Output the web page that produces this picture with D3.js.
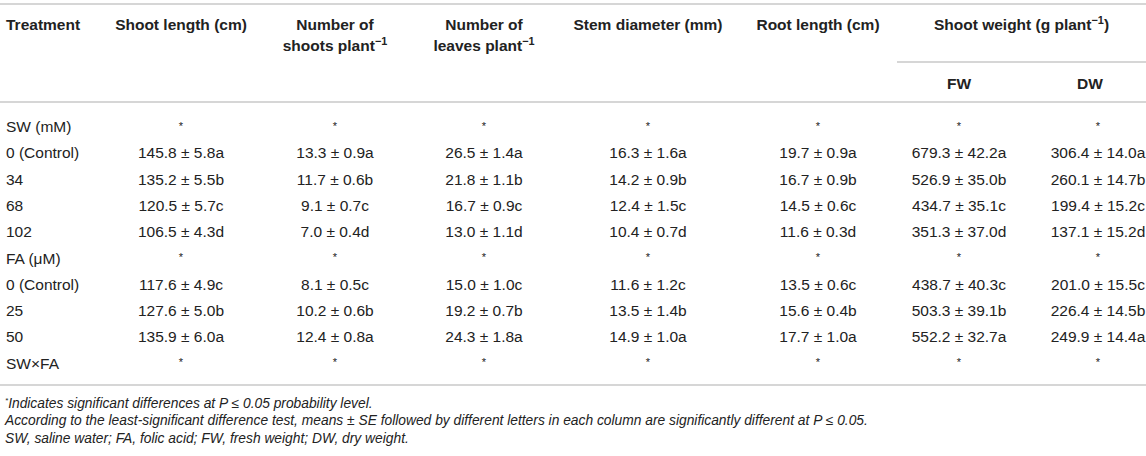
<!DOCTYPE html>
<html>
<head>
<meta charset="utf-8">
<script src="https://cdn.jsdelivr.net/npm/d3@7"></script>
<style>
  body { margin: 0; background: #fff; }
  text { font-family: 'Liberation Sans', Arial, Helvetica, sans-serif; fill: #222; }
</style>
</head>
<body>
<div id="chart"></div>
<script>
// table data
var treatments = ['SW (mM)', '0 (Control)', '34', '68', '102', 'FA (\u03bcM)', '0 (Control)', '25', '50', 'SW\u00d7FA'];

var shoot_length = ['*', '145.8 ± 5.8a', '135.2 ± 5.5b', '120.5 ± 5.7c', '106.5 ± 4.3d', '*', '117.6 ± 4.9c', '127.6 ± 5.0b', '135.9 ± 6.0a', '*'];
var shoots_number = ['*', '13.3 ± 0.9a', '11.7 ± 0.6b', '9.1 ± 0.7c', '7.0 ± 0.4d', '*', '8.1 ± 0.5c', '10.2 ± 0.6b', '12.4 ± 0.8a', '*'];
var leaves_number = ['*', '26.5 ± 1.4a', '21.8 ± 1.1b', '16.7 ± 0.9c', '13.0 ± 1.1d', '*', '15.0 ± 1.0c', '19.2 ± 0.7b', '24.3 ± 1.8a', '*'];
var stem_diameter = ['*', '16.3 ± 1.6a', '14.2 ± 0.9b', '12.4 ± 1.5c', '10.4 ± 0.7d', '*', '11.6 ± 1.2c', '13.5 ± 1.4b', '14.9 ± 1.0a', '*'];
var root_length = ['*', '19.7 ± 0.9a', '16.7 ± 0.9b', '14.5 ± 0.6c', '11.6 ± 0.3d', '*', '13.5 ± 0.6c', '15.6 ± 0.4b', '17.7 ± 1.0a', '*'];
var shoot_fw = ['*', '679.3 ± 42.2a', '526.9 ± 35.0b', '434.7 ± 35.1c', '351.3 ± 37.0d', '*', '438.7 ± 40.3c', '503.3 ± 39.1b', '552.2 ± 32.7a', '*'];
var shoot_dw = ['*', '306.4 ± 14.0a', '260.1 ± 14.7b', '199.4 ± 15.2c', '137.1 ± 15.2d', '*', '201.0 ± 15.5c', '226.4 ± 14.5b', '249.9 ± 14.4a', '*'];

// header labels: [line 1, line 2, superscript on last line]
var headers = [
  ['Shoot length (cm)', '', ''],
  ['Number of', 'shoots plant', '\u22121'],
  ['Number of', 'leaves plant', '\u22121'],
  ['Stem diameter (mm)', '', ''],
  ['Root length (cm)', '', ''],
  ['', '', ''],
  ['', '', '']
];
var sub_headers = ['FW', 'DW'];

var footnotes = [
  'Indicates significant differences at P \u2264 0.05 probability level.',
  'According to the least-significant difference test, means \u00b1 SE followed by different letters in each column are significantly different at P \u2264 0.05.',
  'SW, saline water; FA, folic acid; FW, fresh weight; DW, dry weight.'
];

var columns = [shoot_length, shoots_number, leaves_number, stem_diameter, root_length, shoot_fw, shoot_dw];

// svg container
var chart_width = 1146;
var chart_height = 456;
var font_size = 15.5;
var line_color = '#c8c8c8';

var svg = d3.select('#chart')
  .append('svg')
  .attr('width', chart_width)
  .attr('height', chart_height);

// scales
var x_scale = d3.scaleOrdinal()
  .domain(d3.range(columns.length))
  .range([181, 335, 484, 648, 818, 959, 1098]);

var y_scale = d3.scalePoint()
  .domain(d3.range(treatments.length))
  .range([126.5, 363.2]);

// horizontal rules
var rules = [
  {x1: 0, x2: chart_width, y: 4},
  {x1: 897, x2: chart_width, y: 62},
  {x1: 0, x2: chart_width, y: 102},
  {x1: 0, x2: chart_width, y: 385}
];

svg.selectAll('line.rule')
  .data(rules)
  .enter()
  .append('line')
  .attr('class', 'rule')
  .attr('x1', (d) => d.x1)
  .attr('x2', (d) => d.x2)
  .attr('y1', (d) => d.y)
  .attr('y2', (d) => d.y)
  .attr('stroke', line_color)
  .attr('stroke-width', 1.6);

// header
svg.append('text')
  .attr('x', 6)
  .attr('y', 29.5)
  .attr('font-size', font_size)
  .attr('font-weight', 'bold')
  .text('Treatment');

headers.forEach(function(h, i) {
  h.slice(0, 2).forEach(function(line, j) {
    if (!line) return;
    var t = svg.append('text')
      .attr('x', x_scale(i))
      .attr('y', 29.5 + j * 21)
      .attr('text-anchor', 'middle')
      .attr('font-size', font_size)
      .attr('font-weight', 'bold');
    t.append('tspan').text(line);
    if (j == 1 && h[2]) {
      t.append('tspan')
        .attr('dy', -6)
        .attr('font-size', font_size * 0.7)
        .text(h[2]);
    }
  });
});

// spanning header for shoot weight
var sw_head = svg.append('text')
  .attr('x', (x_scale(5) + x_scale(6)) / 2 - 7)
  .attr('y', 29.5)
  .attr('text-anchor', 'middle')
  .attr('font-size', font_size)
  .attr('font-weight', 'bold');
sw_head.append('tspan').text('Shoot weight (g plant');
sw_head.append('tspan').attr('dy', -6).attr('font-size', font_size * 0.7).text('\u22121');
sw_head.append('tspan').attr('dy', 6).text(')');

svg.selectAll('text.sub')
  .data(sub_headers)
  .enter()
  .append('text')
  .attr('class', 'sub')
  .attr('x', (d, i) => x_scale(5 + i) - (i == 1 ? 8 : 0))
  .attr('y', 88.5)
  .attr('text-anchor', 'middle')
  .attr('font-size', font_size)
  .attr('font-weight', 'bold')
  .text((d) => d);

// treatment column
svg.selectAll('text.treat')
  .data(treatments)
  .enter()
  .append('text')
  .attr('class', 'treat')
  .attr('x', 6)
  .attr('y', (d, i) => y_scale(i) + 5.5)
  .attr('font-size', font_size)
  .text((d) => d);

// value cells
columns.forEach(function(col, c) {
  svg.selectAll('text.col' + c)
    .data(col)
    .enter()
    .append('text')
    .attr('class', 'col' + c)
    .attr('x', x_scale(c))
    .attr('y', (d, i) => y_scale(i) + (d == '*' ? 3 : 5.5))
    .attr('text-anchor', 'middle')
    .attr('font-size', (d) => d == '*' ? 11 : font_size)
    .attr('fill', (d) => d == '*' ? '#555' : '#222')
    .text((d) => d);
});

// footnotes
svg.selectAll('text.note')
  .data(footnotes)
  .enter()
  .append('text')
  .attr('class', 'note')
  .attr('x', 5)
  .attr('y', (d, i) => 407.5 + i * 17.5)
  .attr('font-size', 13.8)
  .attr('font-style', 'italic')
  .each(function(d, i) {
    var t = d3.select(this);
    if (i == 0) {
      t.append('tspan').attr('font-size', 8).attr('dy', -5).text('*');
      t.append('tspan').attr('dy', 5).text(d);
    } else {
      t.text(d);
    }
  });
</script>
</body>
</html>
